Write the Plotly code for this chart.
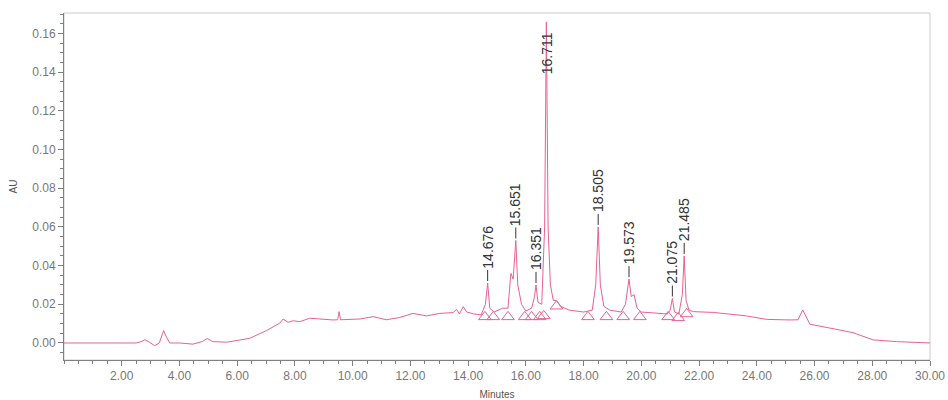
import plotly.graph_objects as go

# Chromatogram trace (minutes, AU)
time = [0.0, 1.0, 1.5, 2.5, 2.7, 2.8, 2.95, 3.14, 3.3, 3.45, 3.55, 3.66, 4.0, 4.47, 4.8, 4.96,
        5.15, 5.63, 6.43, 7.01, 7.47, 7.59, 7.76, 7.94, 8.17, 8.51, 9.32, 9.48, 9.53, 9.58,
        10.25, 10.71, 11.17, 11.63, 12.09, 12.56, 13.02, 13.48, 13.6, 13.7, 13.83, 13.95,
        14.2, 14.45, 14.6, 14.676, 14.75, 14.9, 15.2, 15.38, 15.48, 15.56, 15.651, 15.72,
        15.85, 16.0, 16.2, 16.3, 16.351, 16.42, 16.55, 16.65, 16.711, 16.77, 16.85, 16.95,
        17.06, 17.2, 17.5, 18.0, 18.3, 18.42, 18.505, 18.58, 18.7, 18.9, 19.3, 19.45, 19.573,
        19.65, 19.75, 19.85, 20.0, 20.9, 21.0, 21.075, 21.15, 21.3, 21.42, 21.485, 21.55,
        21.65, 21.8, 22.49, 23.64, 24.34, 25.15, 25.43, 25.59, 25.72, 25.84, 26.88, 27.34,
        28.03, 28.84, 30.0]
signal = [0.0, 0.0, -0.0003, 0.0, 0.0008, 0.0017, 0.0005, -0.0014, 0.0, 0.0064, 0.003, 0.0, 0.0, -0.0006, 0.0008, 0.0023,
          0.0007, 0.0004, 0.0024, 0.0064, 0.0102, 0.0124, 0.0107, 0.0115, 0.011, 0.0128, 0.0119, 0.012, 0.0162, 0.012,
          0.0124, 0.0136, 0.012, 0.0132, 0.0153, 0.014, 0.0153, 0.0157, 0.0174, 0.015, 0.0188, 0.016,
          0.015, 0.0145, 0.02, 0.031, 0.018, 0.016, 0.018, 0.018, 0.036, 0.033, 0.053, 0.030,
          0.020, 0.0165, 0.018, 0.024, 0.030, 0.021, 0.020, 0.060, 0.166, 0.060, 0.030, 0.022,
          0.022, 0.019, 0.017, 0.016, 0.017, 0.030, 0.060, 0.030, 0.019, 0.017, 0.016, 0.020, 0.033,
          0.024, 0.025, 0.018, 0.016, 0.015, 0.017, 0.023, 0.016, 0.015, 0.025, 0.045, 0.022,
          0.017, 0.0162, 0.0158, 0.014, 0.0122, 0.0119, 0.012, 0.0171, 0.0128, 0.0097, 0.0067, 0.0053,
          0.0016, 0.0007, 0.0]

# Labelled peaks
peak_rt = [14.676, 15.651, 16.351, 16.711, 18.505, 19.573, 21.075, 21.485]
peak_height = [0.031, 0.053, 0.030, 0.166, 0.060, 0.033, 0.023, 0.045]
peak_labels = ["14.676", "15.651", "16.351", "16.711", "18.505", "19.573", "21.075", "21.485"]

# Integration start/end markers
mark_t = [14.58, 14.87, 15.38, 15.96, 16.20, 16.48, 16.62, 17.06, 18.15, 18.79, 19.37, 19.95,
          20.93, 21.28, 21.57]
mark_v = [0.0135, 0.0135, 0.0135, 0.0135, 0.0135, 0.0135, 0.014, 0.019, 0.0135, 0.0135, 0.0135, 0.0135,
          0.0135, 0.013, 0.015]

x_ticks = [2, 4, 6, 8, 10, 12, 14, 16, 18, 20, 22, 24, 26, 28, 30]
y_ticks = [0.0, 0.02, 0.04, 0.06, 0.08, 0.10, 0.12, 0.14, 0.16]

PINK = "#e8628c"
GREY = "#808080"
FONT = "Liberation Sans, Arial"

fig = go.Figure()
fig.add_trace(go.Scatter(x=time, y=signal, mode="lines",
                         line=dict(color=PINK, width=1), showlegend=False))
fig.add_trace(go.Scatter(x=mark_t, y=mark_v, mode="markers",
                         marker=dict(symbol="triangle-up-open", size=11,
                                     color=PINK, line=dict(width=1, color=PINK)),
                         showlegend=False))

label_font = dict(family=FONT, size=14, color="#333333")
for rt, h, lab in zip(peak_rt, peak_height, peak_labels):
    if h > 0.12:
        fig.add_annotation(x=rt, y=h - 0.016, text=lab, showarrow=False, textangle=-90,
                           font=label_font)
    else:
        fig.add_annotation(x=rt, y=h, text=lab, showarrow=True, arrowhead=0, arrowwidth=1,
                           arrowcolor="#333333", ax=0, ay=-36, standoff=2, textangle=-90,
                           font=label_font)

fig.update_layout(
    width=948, height=400,
    margin=dict(l=64, r=18, t=13, b=40, autoexpand=False),
    paper_bgcolor="white", plot_bgcolor="white",
    font=dict(family=FONT, size=12, color="#777777"),
    xaxis=dict(range=[0, 30], tickvals=x_ticks, tickformat=".2f", automargin=False,
               ticks="outside", ticklen=5, tickcolor=GREY, showgrid=False, zeroline=False,
               showline=True, linecolor=GREY, linewidth=1, mirror=False,
               minor=dict(dtick=0.5, ticks="outside", ticklen=3, tickcolor=GREY),
               title=dict(text="Minutes", font=dict(size=10, color="#555555"), standoff=8)),
    yaxis=dict(range=[-0.0088, 0.1706], tickvals=y_ticks, tickformat=".2f", automargin=False,
               ticks="outside", ticklen=5, tickcolor=GREY, showgrid=False, zeroline=False,
               showline=True, linecolor=GREY, linewidth=1,
               minor=dict(dtick=0.005, ticks="outside", ticklen=3, tickcolor=GREY),
               title=dict(text="AU", font=dict(size=10, color="#555555"), standoff=12)),
)
# light frame on top and right
fig.add_shape(type="rect", xref="paper", yref="paper", x0=0, y0=0, x1=1, y1=1,
              line=dict(color="#cccccc", width=1), layer="below")

fig.write_html("out.html")
